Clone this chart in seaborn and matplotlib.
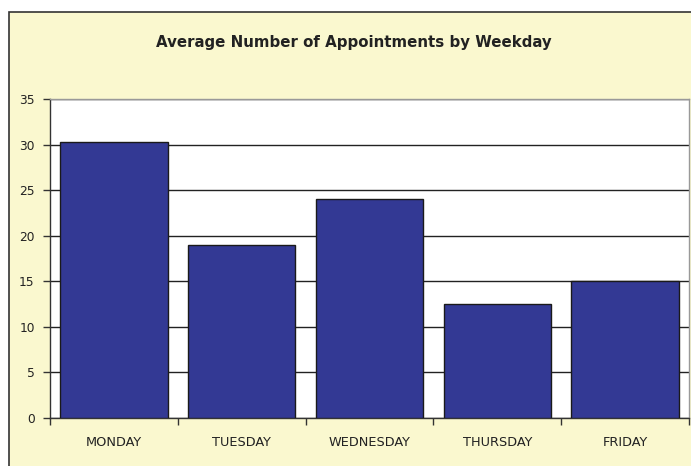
import matplotlib
matplotlib.use('Agg')
import matplotlib.pyplot as plt
import matplotlib.patches as patches
import seaborn as sns
import pandas as pd

# Chart data
weekdays = ['MONDAY', 'TUESDAY', 'WEDNESDAY', 'THURSDAY', 'FRIDAY']
avg_appointments = [30.3, 19.0, 24.0, 12.5, 15.0]
y_ticks = [0, 5, 10, 15, 20, 25, 30, 35]

df = pd.DataFrame({'weekday': weekdays, 'appointments': avg_appointments})

sns.set_style('white')
plt.rcParams['font.family'] = ['DejaVu Sans']

fig = plt.figure(figsize=(6.91, 4.66), dpi=100)
fig.patch.set_facecolor('white')

# yellow chart frame (behind everything)
frame = patches.Rectangle((9 / 691, -0.02), 1.1, (466 - 12) / 466 + 0.02,
                          transform=fig.transFigure, facecolor='#FAF8CF',
                          edgecolor='#333333', linewidth=1.2, zorder=-10)
fig.patches.append(frame)

ax = fig.add_axes([50 / 691, 48 / 466, 639 / 691, 319 / 466])
ax.set_facecolor('white')

sns.barplot(data=df, x='weekday', y='appointments', color='#333994',
            saturation=1, width=0.84, edgecolor='#1a1a1a', linewidth=1,
            ax=ax, zorder=3)

ax.set_ylim(0, 35)
ax.set_xlim(-0.5, 4.5)
ax.set_yticks(y_ticks)
ax.set_xlabel('')
ax.set_ylabel('')

ax.yaxis.grid(True, color='#222222', linewidth=1)
ax.set_axisbelow(True)

# ticks at category boundaries
ax.set_xticks(range(len(weekdays)))
ax.set_xticklabels(weekdays)
ax.set_xticks([i - 0.5 for i in range(len(weekdays) + 1)], minor=True)
ax.tick_params(axis='x', which='major', length=0, pad=13, labelsize=9.3, colors='#222222')
ax.tick_params(axis='x', which='minor', length=5, width=1, color='#333333', direction='out')
ax.tick_params(axis='y', length=5, width=1, color='#333333', direction='out',
               labelsize=8.8, labelcolor='#222222', pad=6)
ax.tick_params(bottom=True, left=True, which='both')

for side in ['left', 'bottom']:
    ax.spines[side].set_color('#333333')
    ax.spines[side].set_linewidth(1)
for side in ['top', 'right']:
    ax.spines[side].set_color('#999999')
    ax.spines[side].set_linewidth(1)

fig.text(354 / 691, 1 - 43 / 466, 'Average Number of Appointments by Weekday',
         ha='center', va='center', fontsize=10.8, fontweight='bold', color='#222222')

fig.savefig('out.png', dpi=100)
